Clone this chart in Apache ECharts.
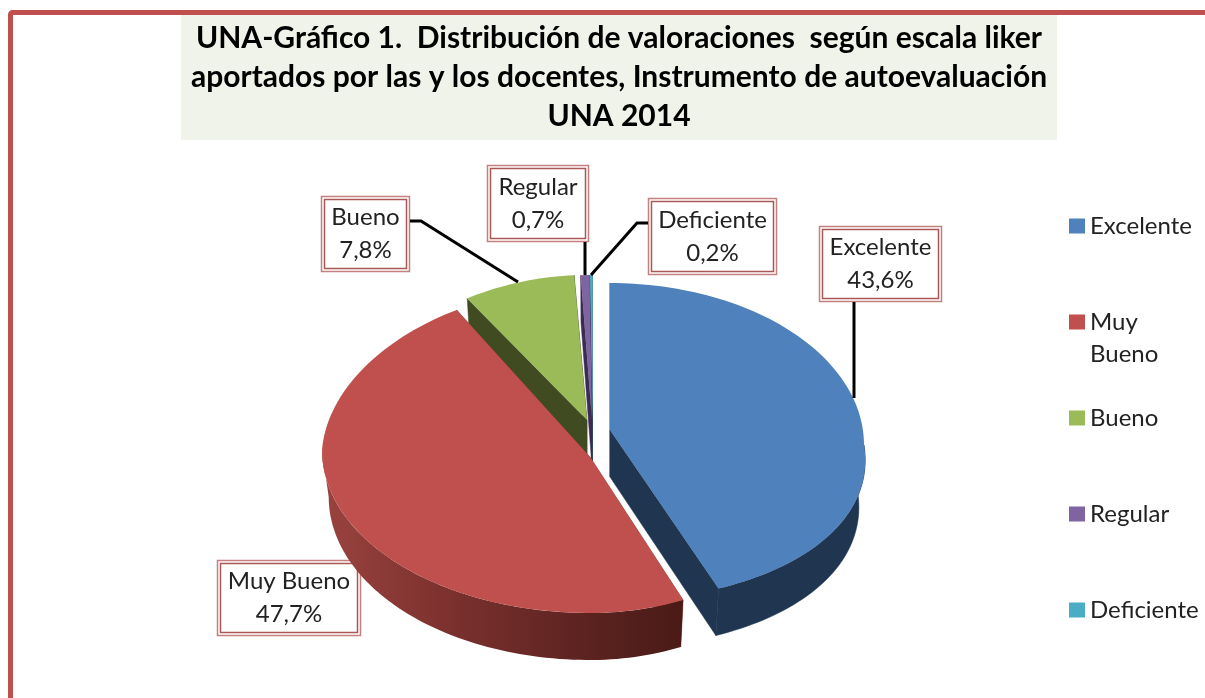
<!DOCTYPE html>
<html>
<head>
<meta charset="utf-8">
<title>UNA-Gráfico 1</title>
<script src="https://cdn.jsdelivr.net/npm/echarts@6/dist/echarts.min.js"></script>
<style>
  html, body { margin: 0; padding: 0; background: #fff; overflow: hidden; }
  #chart { width: 1205px; height: 698px; }
</style>
</head>
<body>
<div id="chart"></div>
<script>
const categories = ['Excelente', 'Muy Bueno', 'Bueno', 'Regular', 'Deficiente'];
const values = [43.6, 47.7, 7.8, 0.7, 0.2];
const titleText = 'UNA-Gráfico 1.  Distribución de valoraciones  según escala liker\naportados por las y los docentes, Instrumento de autoevaluación\nUNA 2014';

const colors = ['#4f81bd', '#c0504d', '#9bbb59', '#8064a2', '#4bacc6'];
const wallColors = ['#1f3550', '#8f3d3a', '#404b22', '#3b2a55', '#1f5565'];
const FONT = 'Lato, "Open Sans", sans-serif';
const DEPTH = 47;
const BOTTOM_SHRINK = 0.975;

// perspective view: each slice has its tip (cx, cy), the middle of its rim (rimY),
// its radii, and how much the rim narrows at the back (pinch) or widens at the front (flare)
const sliceShape = [
  {cx: 610, cy: 430, rimY: 445, left: 254, right: 254, back: 162, front: 156, pinch: 0, flare: 0.1},
  {cx: 590, cy: 457, rimY: 450, left: 268, right: 238, back: 164, front: 163, pinch: 0.05, flare: 0},
  {cx: 587, cy: 420, rimY: 436, left: 252, right: 252, back: 161, front: 161, pinch: 0.1, flare: 0},
  {cx: 592, cy: 420, rimY: 436, left: 200, right: 200, back: 161, front: 161, pinch: 0, flare: 0},
  {cx: 592.5, cy: 420, rimY: 436, left: 200, right: 200, back: 161, front: 161, pinch: 0, flare: 0},
];

// label boxes: x0, y0, x1, y1
const labelBoxes = [
  [819, 226, 942, 302],
  [217, 560, 361, 636],
  [321, 196, 410, 272],
  [487, 165, 589, 242],
  [648, 198, 777, 275],
];
const leaders = [
  [[854, 302], [854, 398]],
  [[410, 221], [421, 221], [518, 282]],
  [[585, 242], [585, 275]],
  [[648, 223], [637, 223], [591, 275]],
];

const total = values.reduce((a, b) => a + b, 0);
const starts = [];
values.reduce((sum, v, i) => {
  starts[i] = (sum / total) * 360;
  return sum + v;
}, 0);

function project(shape, deg) {
  const rad = (deg * Math.PI) / 180;
  const s = Math.sin(rad);
  const c = Math.cos(rad);
  const widen = c > 0 ? 1 - shape.pinch * c : 1 - shape.flare * c;
  return [
    shape.cx + (s < 0 ? shape.left : shape.right) * s * widen,
    shape.rimY - (c > 0 ? shape.back : shape.front) * c,
  ];
}

function arcPoints(shape, from, to) {
  const pts = [];
  const steps = Math.max(2, Math.ceil((to - from) / 1.5));
  for (let i = 0; i <= steps; i++) {
    pts.push(project(shape, from + ((to - from) * i) / steps));
  }
  return pts;
}

function renderSlice(index) {
  return function (params, api) {
    const shape = sliceShape[index];
    const from = starts[index];
    const to = from + (api.value(0) / total) * 360;
    const color = api.visual('color');
    const centre = [shape.cx, shape.cy];
    const down = (p) => [shape.cx + (p[0] - shape.cx) * BOTTOM_SHRINK, p[1] + DEPTH];
    const children = [];
    // side walls of the two cut edges
    [from, to].forEach((deg) => {
      const end = project(shape, deg);
      children.push({
        type: 'polygon',
        shape: {points: [centre, end, down(end), down(centre)]},
        style: {fill: wallColors[index], stroke: wallColors[index], lineWidth: 0.5},
      });
    });
    // outer wall, only the front half can be seen
    const wallFrom = Math.max(from, 90);
    const wallTo = Math.min(to, 270);
    if (wallTo > wallFrom) {
      const arc = arcPoints(shape, wallFrom, wallTo);
      const fill = index === 1
        ? new echarts.graphic.LinearGradient(0, 0, 1, 0, [
            {offset: 0, color: '#9a4340'},
            {offset: 0.3, color: '#803330'},
            {offset: 0.7, color: '#5e2421'},
            {offset: 1, color: '#4a1a17'},
          ])
        : wallColors[index];
      children.push({
        type: 'polygon',
        shape: {points: arc.concat(arc.map(down).reverse())},
        style: index === 1 ? {fill} : {fill, stroke: fill, lineWidth: 0.5},
      });
    }
    children.push({
      type: 'polygon',
      shape: {points: [centre].concat(arcPoints(shape, from, to))},
      style: {fill: color},
    });
    return {type: 'group', children};
  };
}

// smaller slices sit behind, red and blue go on top
const sliceZ = [6, 5, 4, 3, 2];

const series = categories.map((name, i) => ({
  name,
  type: 'custom',
  coordinateSystem: 'none',
  z: sliceZ[i],
  silent: true,
  itemStyle: {color: colors[i]},
  data: [[values[i]]],
  renderItem: renderSlice(i),
}));

function labelGroup(box, i) {
  const [x0, y0, x1, y1] = box;
  return {
    type: 'group',
    z: 20,
    children: [
      {
        type: 'rect',
        shape: {x: x0 + 0.5, y: y0 + 0.5, width: x1 - x0 - 1, height: y1 - y0 - 1},
        style: {fill: '#fff', stroke: '#c4807e', lineWidth: 1.5},
      },
      {
        type: 'rect',
        shape: {x: x0 + 3.5, y: y0 + 3.5, width: x1 - x0 - 7, height: y1 - y0 - 7},
        style: {fill: '#fff', stroke: '#a95856', lineWidth: 1.5},
      },
      {
        type: 'text',
        style: {
          x: (x0 + x1) / 2,
          y: (y0 + y1) / 2,
          text: categories[i] + '\n' + values[i].toFixed(1).replace('.', ',') + '%',
          font: '24px ' + FONT,
          lineHeight: 33,
          fill: '#222',
          align: 'center',
          verticalAlign: 'middle',
        },
      },
    ],
  };
}

const option = {
  animation: false,
  backgroundColor: '#fff',
  title: {
    text: titleText,
    left: 609,
    top: 15,
    textAlign: 'center',
    padding: [4, 10],
    backgroundColor: '#f0f3e9',
    textStyle: {
      fontFamily: FONT,
      fontWeight: 'bold',
      fontSize: 30,
      lineHeight: 39,
      color: '#000',
    },
  },
  legend: {
    orient: 'vertical',
    left: 1069,
    top: 214,
    padding: 0,
    selectedMode: false,
    itemWidth: 16,
    itemHeight: 15,
    itemGap: 72,
    icon: 'rect',
    data: categories,
    formatter: (name) => (name === 'Muy Bueno' ? 'Muy' : name),
    textStyle: {fontFamily: FONT, fontSize: 24, color: '#222'},
  },
  graphic: [
    {
      type: 'rect',
      shape: {x: 10.5, y: 12.5, width: 1400, height: 1000, r: 2},
      style: {fill: 'none', stroke: '#c0504d', lineWidth: 5},
      z: 1,
    },
    {
      type: 'text',
      z: 20,
      style: {x: 1090, y: 354, text: 'Bueno', font: '24px ' + FONT, fill: '#222', verticalAlign: 'middle'},
    },
    ...leaders.map((points) => ({
      type: 'polyline',
      z: 10,
      shape: {points},
      style: {fill: 'none', stroke: '#000', lineWidth: 3},
    })),
    ...labelBoxes.map(labelGroup),
  ],
  series,
};

const chart = echarts.init(document.getElementById('chart'));
chart.setOption(option);
</script>
</body>
</html>
